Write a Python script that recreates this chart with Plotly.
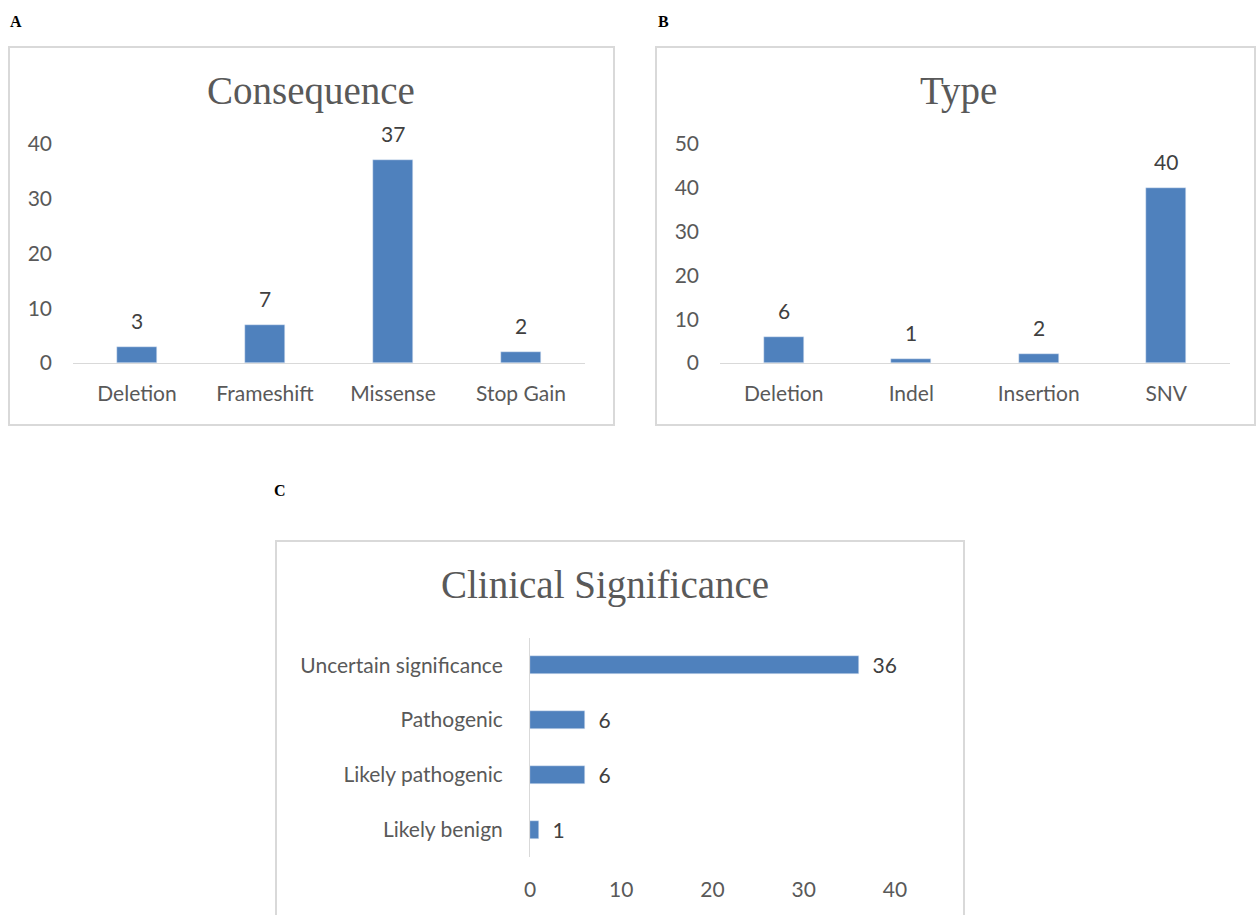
import plotly.graph_objects as go

# Panel A: variant consequence counts
consequence_cats = ["Deletion", "Frameshift", "Missense", "Stop Gain"]
consequence_vals = [3, 7, 37, 2]

# Panel B: variant type counts
type_cats = ["Deletion", "Indel", "Insertion", "SNV"]
type_vals = [6, 1, 2, 40]

# Panel C: clinical significance counts (bottom to top)
clin_cats = ["Likely benign", "Likely pathogenic", "Pathogenic", "Uncertain significance"]
clin_vals = [1, 6, 6, 36]

W, H = 1259, 915
BAR = "#4F81BD"
TXT = "#595959"
LBL = "#404040"
BORDER = "#D9D9D9"
FONT = "Lato, Open Sans, sans-serif"
TFONT = "Liberation Serif, DejaVu Serif, serif"
FS = 21


def px_x(x):
    return x / W


def px_y(y):
    return 1 - y / H


fig = go.Figure()

fig.add_trace(go.Bar(
    x=consequence_cats, y=consequence_vals, xaxis="x", yaxis="y",
    marker_color=BAR, width=0.31, cliponaxis=False,
))
fig.add_trace(go.Bar(
    x=type_cats, y=type_vals, xaxis="x2", yaxis="y2",
    marker_color=BAR, width=0.31, cliponaxis=False,
))
fig.add_trace(go.Bar(
    y=clin_cats, x=clin_vals, orientation="h", xaxis="x3", yaxis="y3",
    marker_color=BAR, width=0.33,
    text=["  " + str(v) for v in clin_vals], textposition="outside", constraintext="none",
    textfont=dict(size=FS, color=LBL, family=FONT), cliponaxis=False,
))

# Value labels above the vertical bars, lifted off the bar tops
for cats, vals, xr, yr in [(consequence_cats, consequence_vals, "x", "y"),
                           (type_cats, type_vals, "x2", "y2")]:
    for c, v in zip(cats, vals):
        fig.add_annotation(x=c, y=v, xref=xr, yref=yr, text=str(v), showarrow=False,
                           xanchor="center", yanchor="bottom", yshift=12,
                           font=dict(size=FS, color=LBL, family=FONT))

cat_axis = dict(
    showgrid=False, zeroline=False, showline=True, linecolor=BORDER, linewidth=1,
    ticks="", tickfont=dict(size=FS, color=TXT, family=FONT), ticklabelstandoff=12,
)
val_axis = dict(
    showgrid=False, zeroline=False, showline=False, ticks="",
    tickfont=dict(size=FS, color=TXT, family=FONT), ticklabelstandoff=20,
)

fig.update_layout(
    width=W, height=H, margin=dict(l=0, r=0, t=0, b=0, autoexpand=False),
    paper_bgcolor="white", plot_bgcolor="white", showlegend=False,
    bargap=0,
    xaxis=dict(cat_axis, domain=[px_x(73), px_x(585)], anchor="y"),
    yaxis=dict(val_axis, domain=[px_y(363), px_y(144)], range=[0, 40], dtick=10, anchor="x"),
    xaxis2=dict(cat_axis, domain=[px_x(720), px_x(1230)], anchor="y2"),
    yaxis2=dict(val_axis, domain=[px_y(363), px_y(144)], range=[0, 50], dtick=10, anchor="x2"),
    xaxis3=dict(val_axis, domain=[px_x(530), px_x(895)], range=[0, 40], dtick=10,
                anchor="y3", ticklabelstandoff=18),
    yaxis3=dict(cat_axis, domain=[px_y(857), px_y(638)], anchor="x3", ticklabelstandoff=22),
)

# Chart frames
for x0, y0, x1, y1 in [(9, 47, 614, 425), (656, 47, 1255, 425), (276, 541, 964, 930)]:
    fig.add_shape(type="rect", xref="paper", yref="paper",
                  x0=px_x(x0), x1=px_x(x1), y0=px_y(y1), y1=px_y(y0),
                  line=dict(color=BORDER, width=2), fillcolor="rgba(0,0,0,0)", layer="below")

# Chart titles
for text, x, y in [("Consequence", 311, 91), ("Type", 958, 91), ("Clinical Significance", 605, 585)]:
    fig.add_annotation(text=text, xref="paper", yref="paper", x=px_x(x), y=px_y(y),
                       xanchor="center", yanchor="middle", showarrow=False,
                       font=dict(size=39, color=TXT, family=TFONT))

# Panel letters
for text, x, y in [("A", 16, 22), ("B", 663, 22), ("C", 280, 491)]:
    fig.add_annotation(text="<b>%s</b>" % text, xref="paper", yref="paper", x=px_x(x), y=px_y(y),
                       xanchor="center", yanchor="middle", showarrow=False,
                       font=dict(size=16, color="black", family=TFONT))

fig.write_html("out.html")
